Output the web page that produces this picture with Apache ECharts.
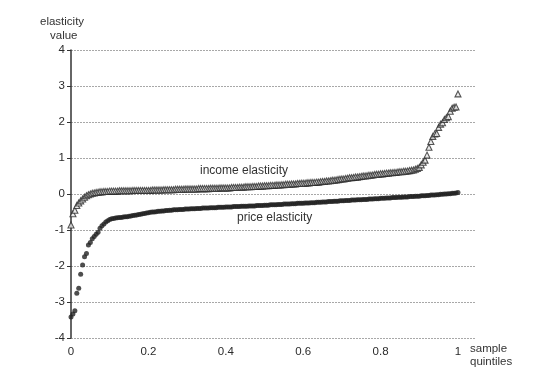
<!DOCTYPE html>
<html>
<head>
<meta charset="utf-8">
<script src="https://cdn.jsdelivr.net/npm/echarts@6/dist/echarts.min.js"></script>
<style>html,body{margin:0;padding:0;background:#fff}#c{width:539px;height:386px}</style>
</head>
<body>
<div id="c"></div>
<script>
// sample quintiles (x positions)
const quantiles = [
0,0.005,0.01,0.015,0.02,0.025,0.03,0.035,0.04,0.045,0.05,0.055,0.06,0.065,0.07,0.075,0.08,0.085,0.09,0.095,
0.1,0.105,0.11,0.115,0.12,0.125,0.13,0.135,0.14,0.145,0.15,0.155,0.16,0.165,0.17,0.175,0.18,0.185,0.19,0.195,
0.2,0.205,0.21,0.215,0.22,0.225,0.23,0.235,0.24,0.245,0.25,0.255,0.26,0.265,0.27,0.275,0.28,0.285,0.29,0.295,
0.3,0.305,0.31,0.315,0.32,0.325,0.33,0.335,0.34,0.345,0.35,0.355,0.36,0.365,0.37,0.375,0.38,0.385,0.39,0.395,
0.4,0.405,0.41,0.415,0.42,0.425,0.43,0.435,0.44,0.445,0.45,0.455,0.46,0.465,0.47,0.475,0.48,0.485,0.49,0.495,
0.5,0.505,0.51,0.515,0.52,0.525,0.53,0.535,0.54,0.545,0.55,0.555,0.56,0.565,0.57,0.575,0.58,0.585,0.59,0.595,
0.6,0.605,0.61,0.615,0.62,0.625,0.63,0.635,0.64,0.645,0.65,0.655,0.66,0.665,0.67,0.675,0.68,0.685,0.69,0.695,
0.7,0.705,0.71,0.715,0.72,0.725,0.73,0.735,0.74,0.745,0.75,0.755,0.76,0.765,0.77,0.775,0.78,0.785,0.79,0.795,
0.8,0.805,0.81,0.815,0.82,0.825,0.83,0.835,0.84,0.845,0.85,0.855,0.86,0.865,0.87,0.875,0.88,0.885,0.89,0.895,
0.9,0.905,0.91,0.915,0.92,0.925,0.93,0.935,0.94,0.945,0.95,0.955,0.96,0.965,0.97,0.975,0.98,0.985,0.99,0.995,
1.0];

const incomeElasticity = [
-0.86,-0.55,-0.45,-0.32,-0.25,-0.19,-0.14,-0.09,-0.05,-0.02,0.00,0.02,0.03,0.04,0.05,0.06,0.06,0.07,0.07,0.07,
0.08,0.08,0.08,0.08,0.08,0.09,0.09,0.09,0.09,0.09,0.09,0.09,0.10,0.10,0.10,0.10,0.10,0.10,0.10,0.10,
0.10,0.10,0.11,0.11,0.11,0.11,0.11,0.11,0.12,0.12,0.12,0.12,0.12,0.12,0.13,0.13,0.13,0.13,0.13,0.14,
0.14,0.14,0.14,0.14,0.14,0.14,0.15,0.15,0.15,0.15,0.15,0.15,0.16,0.16,0.16,0.16,0.16,0.17,0.17,0.17,
0.17,0.17,0.17,0.18,0.18,0.18,0.18,0.19,0.19,0.19,0.20,0.20,0.20,0.20,0.21,0.21,0.21,0.22,0.22,0.22,
0.23,0.23,0.23,0.24,0.24,0.24,0.25,0.25,0.25,0.26,0.26,0.27,0.27,0.27,0.28,0.28,0.28,0.29,0.29,0.30,
0.30,0.30,0.31,0.31,0.32,0.32,0.32,0.33,0.33,0.34,0.35,0.35,0.36,0.36,0.37,0.38,0.38,0.39,0.40,0.41,
0.42,0.42,0.43,0.44,0.45,0.45,0.46,0.47,0.47,0.48,0.49,0.50,0.50,0.51,0.52,0.52,0.53,0.54,0.55,0.55,
0.56,0.56,0.57,0.58,0.58,0.59,0.59,0.60,0.60,0.61,0.62,0.62,0.63,0.63,0.64,0.65,0.66,0.67,0.69,0.71,
0.74,0.81,0.88,0.94,1.08,1.30,1.46,1.60,1.67,1.68,1.85,1.94,1.98,2.07,2.12,2.15,2.30,2.38,2.41,2.42,
2.78];

const priceElasticity = [
-3.42,-3.33,-3.24,-2.76,-2.62,-2.23,-1.97,-1.74,-1.65,-1.42,-1.35,-1.24,-1.18,-1.12,-1.06,-0.95,-0.88,-0.83,-0.78,-0.74,
-0.71,-0.69,-0.68,-0.67,-0.66,-0.65,-0.65,-0.64,-0.63,-0.63,-0.62,-0.61,-0.60,-0.59,-0.58,-0.57,-0.56,-0.55,-0.54,-0.53,
-0.52,-0.51,-0.50,-0.50,-0.49,-0.48,-0.48,-0.47,-0.47,-0.46,-0.46,-0.45,-0.45,-0.44,-0.44,-0.44,-0.43,-0.43,-0.43,-0.42,
-0.42,-0.42,-0.41,-0.41,-0.41,-0.40,-0.40,-0.40,-0.39,-0.39,-0.39,-0.39,-0.38,-0.38,-0.38,-0.38,-0.37,-0.37,-0.37,-0.37,
-0.36,-0.36,-0.36,-0.36,-0.35,-0.35,-0.35,-0.35,-0.34,-0.34,-0.34,-0.34,-0.33,-0.33,-0.33,-0.33,-0.32,-0.32,-0.32,-0.32,
-0.31,-0.31,-0.31,-0.30,-0.30,-0.30,-0.30,-0.29,-0.29,-0.29,-0.28,-0.28,-0.28,-0.28,-0.27,-0.27,-0.27,-0.26,-0.26,-0.26,
-0.26,-0.25,-0.25,-0.25,-0.24,-0.24,-0.24,-0.23,-0.23,-0.23,-0.22,-0.22,-0.22,-0.21,-0.21,-0.21,-0.20,-0.20,-0.20,-0.19,
-0.19,-0.19,-0.18,-0.18,-0.18,-0.17,-0.17,-0.17,-0.16,-0.16,-0.16,-0.15,-0.15,-0.15,-0.14,-0.14,-0.14,-0.13,-0.13,-0.13,
-0.12,-0.12,-0.12,-0.11,-0.11,-0.11,-0.10,-0.10,-0.10,-0.09,-0.09,-0.09,-0.08,-0.08,-0.08,-0.07,-0.07,-0.07,-0.06,-0.06,
-0.06,-0.05,-0.05,-0.05,-0.04,-0.04,-0.03,-0.03,-0.03,-0.02,-0.02,-0.01,-0.01,0.00,0.00,0.01,0.01,0.02,0.02,0.03,
0.04];

const yTicks = [-4,-3,-2,-1,0,1,2,3,4];
const xTickLabels = ['0','0.2','0.4','0.6','0.8','1'];

const chart = echarts.init(document.getElementById('c'), null, {renderer: 'canvas'});
const pair = (ys) => ys.map((v, i) => [quantiles[i], v]);
const font = 'Liberation Sans, Arial, sans-serif';

chart.setOption({
  animation: false,
  backgroundColor: '#ffffff',
  grid: {left: 71, right: 64, top: 50, bottom: 48, containLabel: false},
  xAxis: {
    type: 'value', min: 0, max: 1.044, interval: 0.2,
    axisLine: {show: false}, axisTick: {show: false}, splitLine: {show: false},
    axisLabel: {
      showMaxLabel: false, margin: 8, color: '#2b2b2b', fontSize: 11.5, fontFamily: font,
      formatter: (v) => { const i = Math.round(v / 0.2); return (Math.abs(v - i * 0.2) < 1e-6 && i < xTickLabels.length) ? xTickLabels[i] : ''; }
    }
  },
  yAxis: {
    type: 'value', min: yTicks[0], max: yTicks[yTicks.length - 1], interval: 1,
    axisLine: {show: true, lineStyle: {color: '#333', width: 1.5}},
    axisTick: {show: true, length: 4, lineStyle: {color: '#333'}},
    axisLabel: {color: '#2b2b2b', fontSize: 11.5, margin: 6, fontFamily: font},
    splitLine: {show: true, lineStyle: {color: '#a8a8a8', type: [2, 1], width: 1}}
  },
  series: [
    {
      name: 'income elasticity', type: 'scatter', data: pair(incomeElasticity),
      symbol: 'triangle', symbolSize: 6,
      itemStyle: {color: '#e6e6e6', borderColor: '#2a2a2a', borderWidth: 1.1}
    },
    {
      name: 'price elasticity', type: 'scatter', data: pair(priceElasticity),
      symbol: 'circle', symbolSize: 5,
      itemStyle: {color: '#222222', borderWidth: 0}
    }
  ],
  graphic: [
    {type: 'text', left: 40, top: 16, style: {text: 'elasticity', fill: '#333', font: '11.5px ' + font}},
    {type: 'text', left: 50, top: 30, style: {text: 'value', fill: '#333', font: '11.5px ' + font}},
    {type: 'text', left: 200, top: 165, style: {text: 'income elasticity', fill: '#333', font: '12px ' + font}},
    {type: 'text', left: 237, top: 212, style: {text: 'price elasticity', fill: '#333', font: '12px ' + font}},
    {type: 'text', left: 470, top: 343, style: {text: 'sample', fill: '#333', font: '11.5px ' + font}},
    {type: 'text', left: 470, top: 356, style: {text: 'quintiles', fill: '#333', font: '11.5px ' + font}}
  ]
});
</script>
</body>
</html>
